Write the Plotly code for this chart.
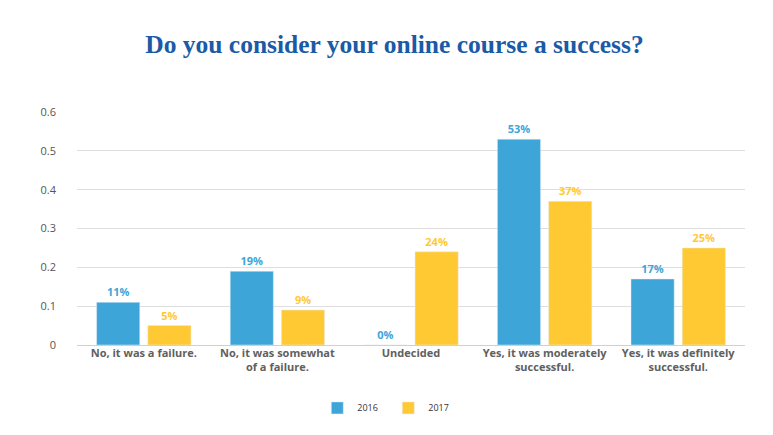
import plotly.graph_objects as go

categories = [
    "No, it was a failure.",
    "No, it was somewhat<br>of a failure.",
    "Undecided",
    "Yes, it was moderately<br>successful.",
    "Yes, it was definitely<br>successful.",
]
values_2016 = [0.11, 0.19, 0.0, 0.53, 0.17]
values_2017 = [0.05, 0.09, 0.24, 0.37, 0.25]

blue = '#3ea5d8'
yellow = '#ffc933'

fig = go.Figure()
fig.add_trace(go.Bar(
    x=categories, y=values_2016, name='2016',
    marker=dict(color=blue),
    texttemplate='<b>%{y:.0%}</b>', textposition='outside',
    textfont=dict(color=blue, size=11, family='Open Sans'),
    cliponaxis=False,
))
fig.add_trace(go.Bar(
    x=categories, y=values_2017, name='2017',
    marker=dict(color=yellow),
    texttemplate='<b>%{y:.0%}</b>', textposition='outside',
    textfont=dict(color=yellow, size=11, family='Open Sans'),
    cliponaxis=False,
))

# bold category labels
tick_text = ['<b>' + c + '</b>' for c in categories]

fig.update_layout(
    width=773,
    height=435,
    margin=dict(l=69, r=36, t=104, b=98),
    paper_bgcolor='white',
    plot_bgcolor='white',
    barmode='group',
    bargap=0.233,
    bargroupgap=0.157,
    font=dict(family='Open Sans', color='#555555'),
    title=dict(
        text='<b>Do you consider your online course a success?</b>',
        x=0.5, xanchor='center', y=0.918, yanchor='middle',
        font=dict(family='Liberation Serif', size=25.5, color='#1a5aa6'),
    ),
    xaxis=dict(
        tickmode='array',
        tickvals=categories,
        ticktext=tick_text,
        tickfont=dict(size=11, color='#606060', family='Open Sans'),
        showline=False,
        ticks='',
    ),
    yaxis=dict(
        range=[0, 0.6],
        dtick=0.1,
        gridcolor='#dedede',
        zeroline=True,
        zerolinecolor='#d0d0d0',
        zerolinewidth=1,
        tickfont=dict(size=11, color='#555555'),
        ticklabelstandoff=20,
    ),
    legend=dict(
        orientation='h',
        x=0.466, xanchor='center',
        y=-0.27, yanchor='middle',
        font=dict(size=9, color='#333333'),
        itemwidth=30,
        entrywidth=26,
    ),
)

fig.write_html("out.html")
